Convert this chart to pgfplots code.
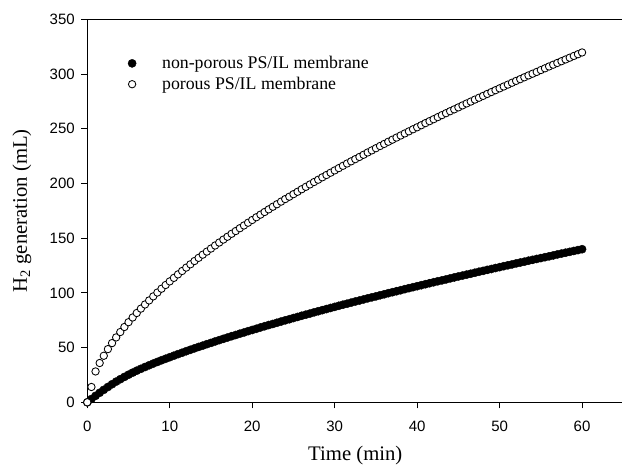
\documentclass[border=0pt]{standalone}
\usepackage{fontspec}
\setmainfont{Liberation Serif}
\newfontfamily\arialfont{Liberation Sans}
\usepackage{pgfplots}
\usepackage{pgfplotstable}
\pgfplotsset{compat=1.18}

% H2 volume, every 0.5 min
\pgfplotstableread{
t v
0 0
0.5 3.0
1 5.9
1.5 8.7
2 11.4
2.5 14.0
3 16.5
3.5 18.9
4 21.1
4.5 23.2
5 25.2
5.5 27.1
6 28.9
6.5 30.6
7 32.25
7.5 33.85
8 35.4
8.5 36.9
9 38.4
9.5 39.8
10 41.2
10.5 42.6
11 44.0
11.5 45.3
12 46.7
12.5 48.0
13 49.3
13.5 50.6
14 51.8
14.5 53.1
15 54.3
15.5 55.6
16 56.8
16.5 58.0
17 59.2
17.5 60.4
18 61.5
18.5 62.7
19 63.8
19.5 65.0
20 66.1
20.5 67.2
21 68.4
21.5 69.5
22 70.6
22.5 71.6
23 72.7
23.5 73.8
24 74.9
24.5 75.9
25 77.0
25.5 78.0
26 79.1
26.5 80.1
27 81.1
27.5 82.2
28 83.2
28.5 84.2
29 85.2
29.5 86.2
30 87.2
30.5 88.2
31 89.2
31.5 90.1
32 91.1
32.5 92.1
33 93.0
33.5 94.0
34 95.0
34.5 95.9
35 96.8
35.5 97.8
36 98.7
36.5 99.7
37 100.6
37.5 101.5
38 102.4
38.5 103.4
39 104.3
39.5 105.2
40 106.1
40.5 107.0
41 107.9
41.5 108.8
42 109.7
42.5 110.6
43 111.4
43.5 112.3
44 113.2
44.5 114.1
45 115.0
45.5 115.8
46 116.7
46.5 117.5
47 118.4
47.5 119.3
48 120.1
48.5 121.0
49 121.8
49.5 122.7
50 123.5
50.5 124.4
51 125.2
51.5 126.0
52 126.9
52.5 127.7
53 128.5
53.5 129.4
54 130.2
54.5 131.0
55 131.8
55.5 132.6
56 133.4
56.5 134.2
57 135.1
57.5 135.9
58 136.7
58.5 137.5
59 138.3
59.5 139.1
60 139.9
}\nonporous

\pgfplotstableread{
t v
0 0
0.5 14.0
1 28.2
1.5 35.9
2 42.5
2.5 48.6
3 54.1
3.5 59.3
4 64.2
4.5 68.8
5 73.2
5.5 77.5
6 81.6
6.5 85.6
7 89.4
7.5 93.1
8 96.8
8.5 100.3
9 103.8
9.5 107.2
10 110.5
10.5 113.7
11 116.9
11.5 120.0
12 123.1
12.5 126.1
13 129.1
13.5 132.0
14 134.9
14.5 137.7
15 140.5
15.5 143.3
16 146.0
16.5 148.7
17 151.3
17.5 154.0
18 156.5
18.5 159.1
19 161.6
19.5 164.1
20 166.6
20.5 169.1
21 171.5
21.5 173.9
22 176.3
22.5 178.7
23 181.0
23.5 183.4
24 185.7
24.5 187.9
25 190.2
25.5 192.4
26 194.7
26.5 196.9
27 199.1
27.5 201.3
28 203.4
28.5 205.6
29 207.7
29.5 209.8
30 211.9
30.5 214.0
31 216.1
31.5 218.2
32 220.2
32.5 222.2
33 224.2
33.5 226.2
34 228.3
34.5 230.2
35 232.2
35.5 234.2
36 236.1
36.5 238.1
37 240.0
37.5 241.9
38 243.8
38.5 245.7
39 247.6
39.5 249.5
40 251.3
40.5 253.2
41 255.1
41.5 256.9
42 258.7
42.5 260.6
43 262.4
43.5 264.2
44 266.0
44.5 267.7
45 269.5
45.5 271.3
46 273.1
46.5 274.8
47 276.6
47.5 278.3
48 280.0
48.5 281.8
49 283.5
49.5 285.2
50 286.9
50.5 288.6
51 290.3
51.5 292.0
52 293.7
52.5 295.3
53 297.0
53.5 298.7
54 300.3
54.5 301.9
55 303.6
55.5 305.2
56 306.9
56.5 308.5
57 310.1
57.5 311.7
58 313.3
58.5 314.9
59 316.5
59.5 318.1
60 319.7
}\porous

\begin{document}
\begin{tikzpicture}
\useasboundingbox (-87.3pt,-65.7pt) rectangle (534.7pt,402.3pt);
\begin{axis}[
    at={(0pt,0pt)}, anchor=south west,
    scale only axis,
    width=536pt, height=383pt,
    xmin=0, xmax=65, ymin=0, ymax=350,
    xtick={0,10,...,60}, ytick={0,50,...,350},
    axis x line*=box, axis y line*=left,
    xtick pos=left, ytick pos=left,
    tick align=outside,
    major tick length=6pt,
    tick style={black, line width=0.8pt},
    axis line style={black, line width=0.8pt},
    tick label style={font=\arialfont\fontsize{15}{17}\selectfont},
    xticklabel style={yshift=-9pt},
    yticklabel style={xshift=-3pt},
    /pgf/number format/assume math mode=true,
    xlabel={Time (min)},
    ylabel={H\textsubscript{2} generation (mL)},
    label style={font=\fontsize{20.7}{24}\selectfont},
    xlabel style={at={(axis description cs:0.5,-0.140)}, anchor=center},
    ylabel style={at={(axis description cs:-0.1218,0.5)}, anchor=center},
    legend style={at={(axis description cs:0.07,0.914)}, anchor=north west,
      draw=none, fill=none, font=\fontsize{17.8}{20}\selectfont,
      row sep=3pt},
    legend cell align=left,
    legend image code/.code={\draw[#1] plot coordinates {(0pt,0pt)};
      \path[draw=none, fill=none] (-4pt,-1pt) rectangle (28pt,1pt);},
    clip=false,
  ]
\addplot[black, only marks, mark=*, mark size=4.1pt]
  table[x=t, y=v] {\nonporous};
\addlegendentry{non-porous PS/IL membrane}
\addplot[black, only marks, mark=*, mark size=3.7pt,
  mark options={fill=white, draw=black, line width=0.85pt}]
  table[x=t, y=v] {\porous};
\addlegendentry{porous PS/IL membrane}
\end{axis}
\end{tikzpicture}
\end{document}
